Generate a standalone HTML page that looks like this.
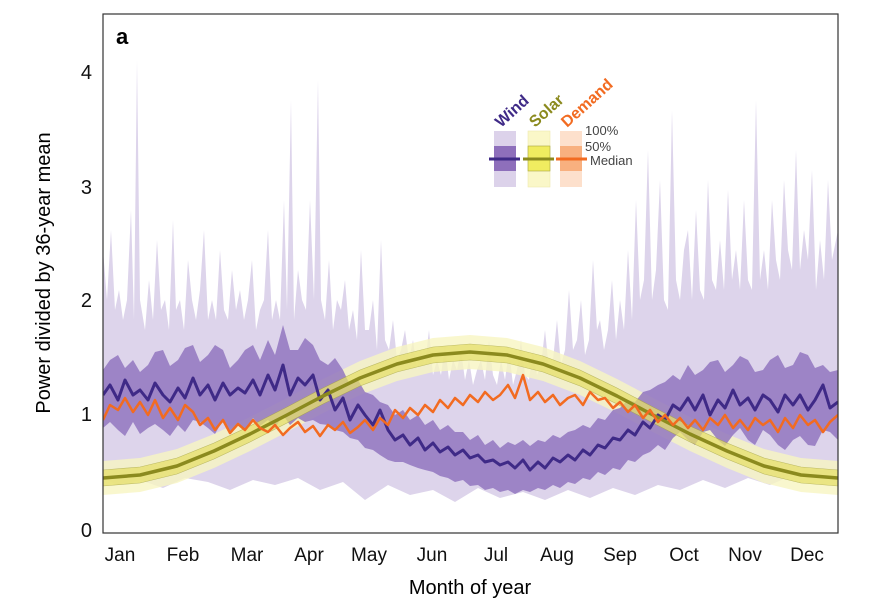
<!DOCTYPE html><html><head><style>body{margin:0;background:#fff}svg{display:block}text{font-family:"Liberation Sans",sans-serif}</style></head><body>
<svg width="871" height="606" viewBox="0 0 871 606">
<defs><clipPath id="c"><rect x="103" y="14" width="735" height="519"/></clipPath></defs>
<g clip-path="url(#c)">
<polygon fill="#ddd4eb" points="103,250 107,300 111,230 115,310 119,290 123,320 127,300 131,210 134,320 137,60 140,300 145,330 149,280 153,320 157,240 161,310 165,300 169,330 173,220 176,310 180,300 184,330 188,260 192,300 196,320 200,290 204,230 208,320 212,300 216,320 220,250 224,310 228,320 232,270 236,310 240,290 244,320 248,300 252,260 256,330 260,310 264,300 268,230 272,320 276,300 280,320 284,200 287,310 291,100 294,320 298,270 302,300 306,310 310,200 314,300 318,80 321,300 325,320 329,260 333,330 337,300 341,310 345,280 349,330 353,310 357,340 361,250 365,330 369,330 373,300 377,350 381,240 385,340 389,350 393,320 397,360 401,350 405,330 409,360 413,340 417,370 421,350 425,365 429,330 433,375 437,360 441,375 445,345 449,380 453,360 457,370 461,350 465,380 469,360 473,385 477,370 481,360 485,380 489,340 493,375 497,385 501,360 505,380 509,350 513,385 517,370 521,340 525,375 529,380 533,350 537,375 541,365 545,330 549,370 553,360 557,320 561,365 565,350 569,290 573,350 577,340 581,300 585,355 589,340 593,260 597,330 600,320 604,350 608,330 612,280 616,340 620,300 624,330 628,250 632,320 636,200 640,300 644,280 648,150 652,300 656,270 660,180 664,300 668,310 672,110 676,280 680,300 684,250 688,230 692,300 696,210 700,290 704,300 708,180 712,280 716,290 720,240 724,290 728,190 732,280 736,250 740,290 744,200 748,280 752,290 756,100 760,280 764,250 768,290 772,200 776,260 780,280 784,180 788,250 792,270 796,150 800,270 804,230 808,260 812,170 816,290 820,240 824,280 828,180 832,260 838,230 838,470 815,480 793,475 770,485 748,478 725,488 703,480 680,490 658,485 635,495 613,488 590,498 568,490 545,500 523,492 500,498 478,488 455,502 433,490 410,495 388,485 365,500 343,482 320,490 298,478 275,485 253,480 230,490 208,482 185,478 163,488 140,480 118,485 103,478"/>
<polygon fill="#f8f5c2" opacity="0.8" points="103,461 140,458 177,449 214,434 250,417 287,398 323,379 360,361 397,347 433,338 470,335 507,338 543,347 580,361 617,379 653,398 690,417 727,434 764,449 801,458 838,461 838,495 801,492 764,483 727,468 690,451 653,432 617,413 580,395 543,381 507,372 470,369 433,372 397,381 360,395 323,413 287,432 250,451 214,468 177,483 140,492 103,495"/>
<polygon fill="#9275bf" opacity="0.85" points="103,370 110,360 118,355 125,368 133,360 140,372 148,365 155,352 163,350 170,366 178,360 185,348 193,345 200,362 208,355 215,345 223,350 230,368 238,360 245,350 253,345 260,360 268,340 275,355 283,325 290,350 298,350 305,338 313,345 320,360 328,365 335,358 343,370 350,385 358,380 365,392 373,395 380,402 388,405 395,415 403,410 410,420 418,415 425,425 433,420 440,430 448,425 455,432 463,432 470,440 478,435 485,445 493,440 500,448 508,442 515,445 523,440 530,446 538,440 545,442 553,435 560,438 568,432 575,430 583,425 590,428 598,418 605,420 613,410 620,408 628,400 635,402 643,392 650,390 658,385 665,382 673,375 680,380 688,365 695,375 703,370 710,362 718,360 725,372 733,365 740,356 748,360 755,372 763,370 770,360 778,355 785,368 793,365 800,352 808,355 815,368 823,365 830,372 838,370 838,440 830,432 823,430 815,446 808,445 800,436 793,440 785,450 778,445 770,435 763,430 755,445 748,440 740,428 733,435 725,446 718,440 710,430 703,432 695,445 688,440 680,432 673,438 665,450 658,445 650,452 643,455 635,462 628,460 620,470 613,468 605,475 598,472 590,480 583,478 575,484 568,482 560,488 553,485 545,490 538,488 530,492 523,490 515,494 508,490 500,492 493,488 485,490 478,485 470,486 463,480 455,482 448,478 440,476 433,472 425,470 418,468 410,465 403,462 395,462 388,460 380,455 373,450 365,448 358,440 350,438 343,432 335,430 328,425 320,424 313,420 305,422 298,418 290,425 283,415 275,428 268,420 260,426 253,418 245,430 238,425 230,432 223,420 215,434 208,428 200,422 193,420 185,432 178,425 170,436 163,430 155,424 148,428 140,434 133,422 125,436 118,430 110,422 103,428"/>
<polygon fill="#e6e06a" opacity="0.75" stroke="#a8a640" stroke-width="0.6" points="103,470 140,467 177,458 214,443 250,426 287,407 323,388 360,370 397,356 433,347 470,344 507,347 543,356 580,370 617,388 653,407 690,426 727,443 764,458 801,467 838,470 838,486 801,483 764,474 727,459 690,442 653,423 617,404 580,386 543,372 507,363 470,360 433,363 397,372 360,386 323,404 287,423 250,442 214,459 177,474 140,483 103,486"/>
<polyline fill="none" stroke="#3f2a87" stroke-width="3" stroke-linejoin="round" points="103,395 110,385 118,400 125,380 133,395 140,390 148,400 155,383 163,395 170,402 178,388 185,398 193,378 200,395 208,385 215,400 223,383 230,395 238,388 245,393 253,380 260,395 268,375 275,390 283,365 290,395 298,378 305,385 313,375 320,400 328,390 335,410 343,398 350,420 358,405 365,415 373,425 380,410 388,430 395,440 403,435 410,445 418,438 425,450 433,443 440,452 448,447 455,455 463,450 470,458 478,455 485,462 493,460 500,465 508,462 515,468 523,460 530,470 538,462 545,468 553,458 560,462 568,455 575,460 583,450 590,455 598,445 605,448 613,438 620,440 628,430 635,435 643,422 650,428 658,415 665,420 673,405 680,410 688,398 695,410 703,395 710,415 718,400 725,408 733,390 740,405 748,398 755,410 763,395 770,400 778,412 785,395 793,405 800,395 808,410 815,400 823,385 830,408 838,402"/>
<polyline fill="none" stroke="#8b8a1e" stroke-width="3.5" stroke-linejoin="round" points="103,478 140,475 177,466 214,451 250,434 287,415 323,396 360,378 397,364 433,355 470,352 507,355 543,364 580,378 617,396 653,415 690,434 727,451 764,466 801,475 838,478"/>
<polyline fill="none" stroke="#f26b21" stroke-width="2.5" stroke-linejoin="round" points="103,420 110,405 118,410 125,398 133,412 140,402 148,415 155,400 163,418 170,408 178,420 185,405 193,412 200,425 208,418 215,430 223,420 230,433 238,424 245,430 253,420 260,428 268,432 275,425 283,435 290,428 298,422 305,432 313,426 320,436 328,425 335,430 343,422 350,433 358,427 365,420 373,430 380,418 388,425 395,410 403,418 410,408 418,415 425,405 433,412 440,400 448,408 455,398 463,405 470,395 478,402 485,392 493,400 500,395 508,385 515,398 523,375 530,400 538,392 545,402 553,395 560,405 568,398 575,395 583,405 590,392 598,400 605,398 613,408 620,402 628,412 635,405 643,418 650,410 658,422 665,415 673,425 680,418 688,428 695,420 703,430 710,418 718,425 725,415 733,428 740,420 748,430 755,418 763,425 770,420 778,432 785,418 793,428 800,415 808,425 815,420 823,432 830,422 838,415"/>
</g>
<rect x="103" y="14" width="735" height="519" fill="none" stroke="#333" stroke-width="1.2"/>
<text x="116" y="44" font-size="22" font-weight="bold">a</text>
<g font-size="20" text-anchor="end" fill="#111"><text x="92" y="79">4</text><text x="92" y="194">3</text><text x="92" y="307">2</text><text x="92" y="421">1</text><text x="92" y="537">0</text></g>
<g font-size="19" text-anchor="middle" fill="#111"><text x="120" y="561">Jan</text><text x="183" y="561">Feb</text><text x="247" y="561">Mar</text><text x="309" y="561">Apr</text><text x="369" y="561">May</text><text x="432" y="561">Jun</text><text x="496" y="561">Jul</text><text x="557" y="561">Aug</text><text x="620" y="561">Sep</text><text x="684" y="561">Oct</text><text x="745" y="561">Nov</text><text x="807" y="561">Dec</text></g>
<text x="470" y="594" font-size="20" text-anchor="middle">Month of year</text>
<text transform="translate(50,273) rotate(-90)" font-size="20" text-anchor="middle">Power divided by 36-year mean</text>
<g font-weight="bold" font-size="16">
<text transform="translate(501,128) rotate(-42)" fill="#3f2a87">Wind</text>
<text transform="translate(535,128) rotate(-42)" fill="#8b8a1e">Solar</text>
<text transform="translate(567,128) rotate(-42)" fill="#f26b21">Demand</text></g>
<rect x="494" y="131" width="22" height="56" fill="#dcd2ea"/><rect x="494" y="146" width="22" height="25" fill="#8e6fbb"/>
<rect x="528" y="131" width="22" height="56" fill="#faf7c8" stroke="#eee9b0" stroke-width="0.6"/><rect x="528" y="146" width="22" height="25" fill="#f0ec60" stroke="#a8a640" stroke-width="0.6"/>
<rect x="560" y="131" width="22" height="56" fill="#fde0cc"/><rect x="560" y="146" width="22" height="25" fill="#f8b07f"/>
<line x1="489" y1="159" x2="520" y2="159" stroke="#3f2a87" stroke-width="3"/>
<line x1="523" y1="159" x2="554" y2="159" stroke="#8b8a1e" stroke-width="3"/>
<line x1="556" y1="159" x2="587" y2="159" stroke="#f26b21" stroke-width="3"/>
<g font-size="13" fill="#444"><text x="585" y="135">100%</text><text x="585" y="151">50%</text><text x="590" y="165">Median</text></g>
</svg></body></html>
